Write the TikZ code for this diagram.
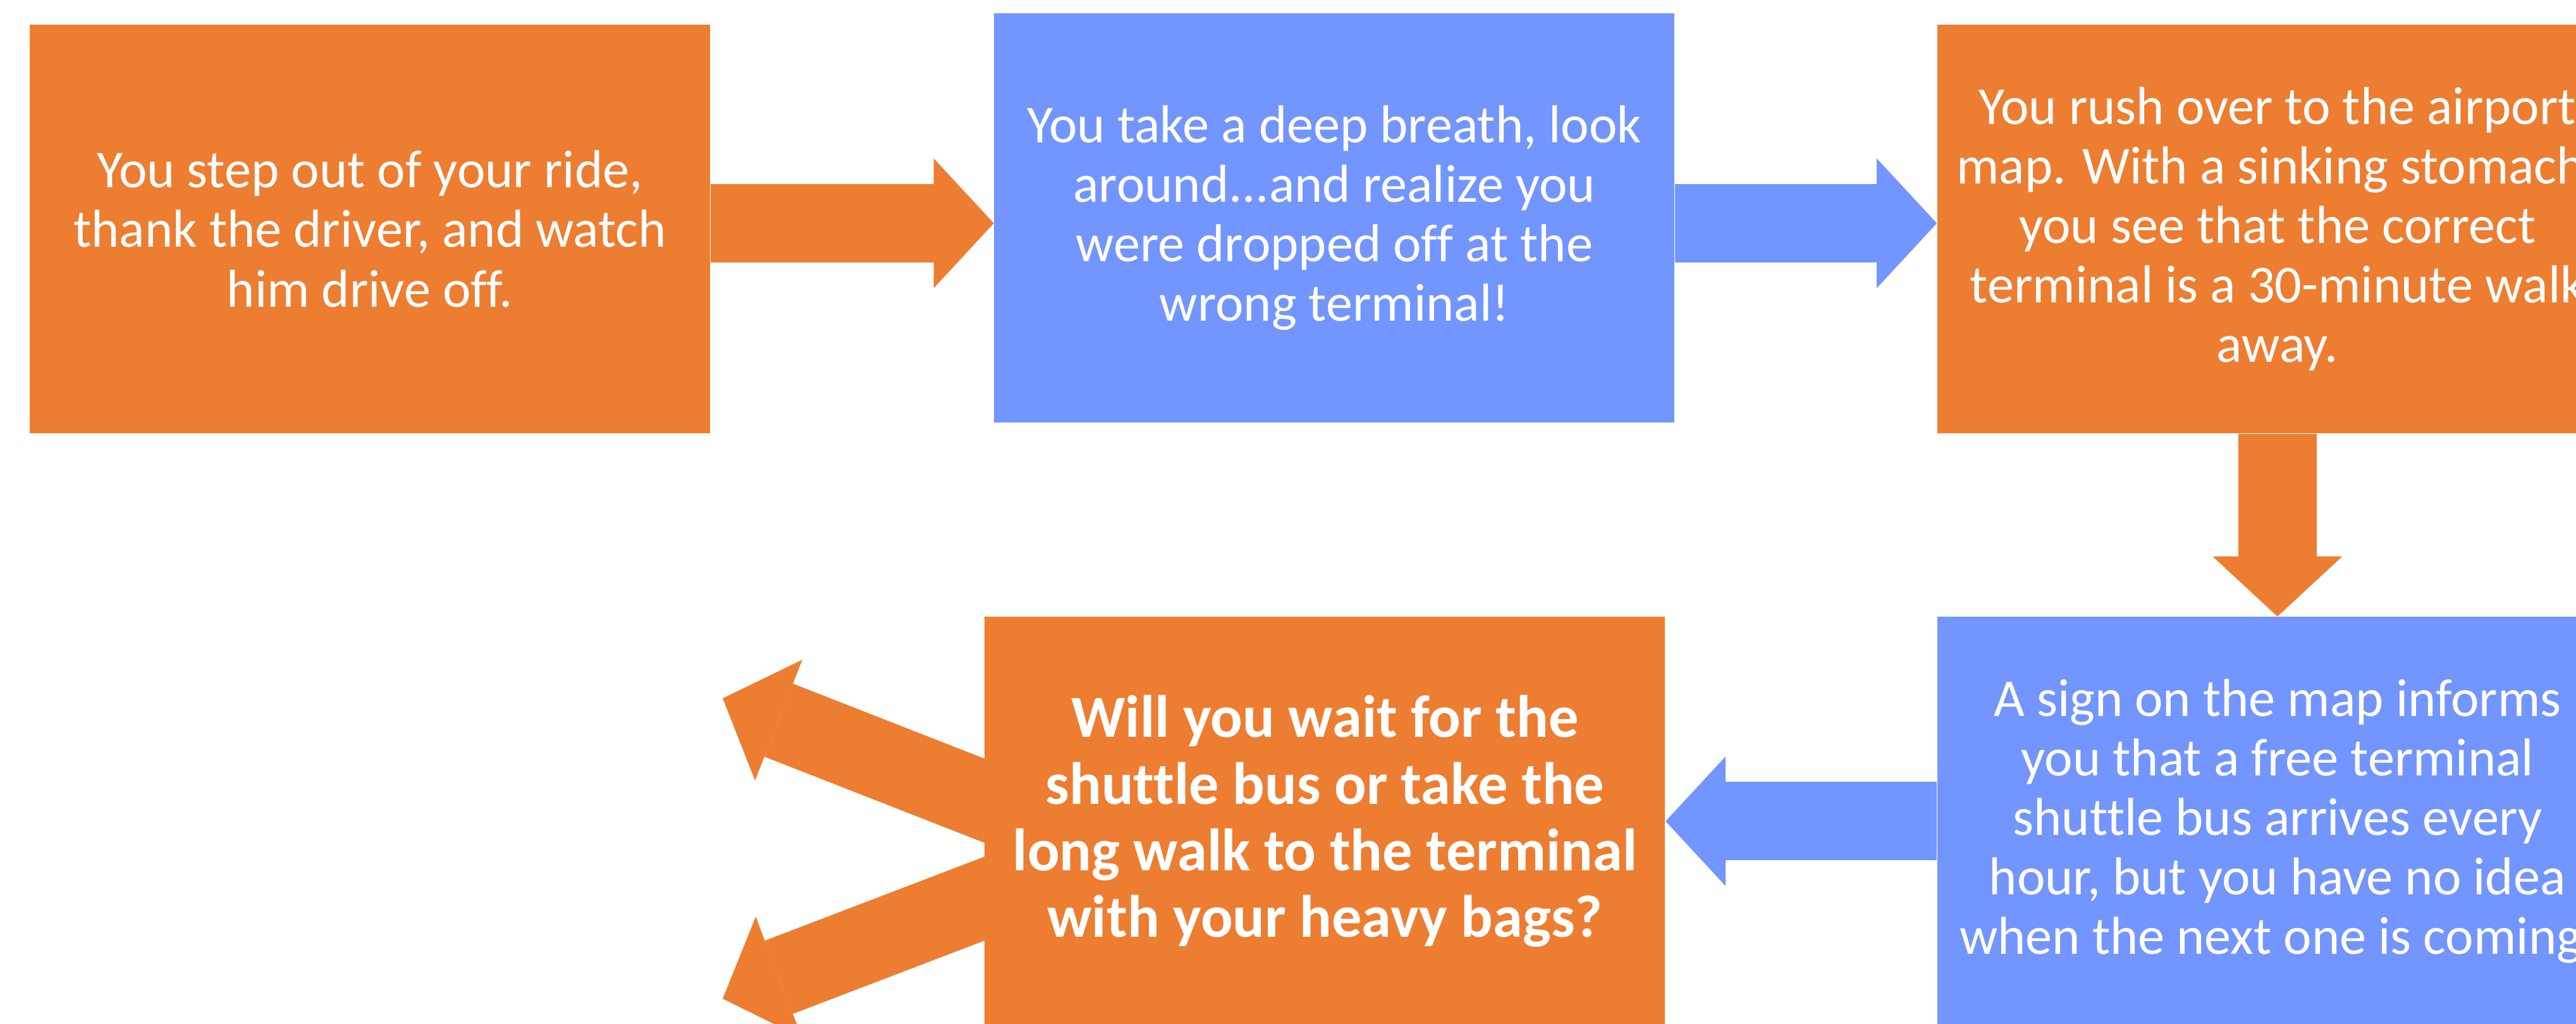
\documentclass[tikz,border=0pt]{standalone}
\usepackage{fontspec}
\setmainfont{Carlito}[Ligatures=CommonOff]
\usepackage{xcolor}
\usetikzlibrary{shapes,arrows.meta,positioning,calc,backgrounds}

\definecolor{storyorange}{HTML}{ED7D31}
\definecolor{storyblue}{HTML}{7295FF}

\begin{document}
\begin{tikzpicture}[
    node distance=4.4cm,
    block/.style={rectangle, minimum width=10.76cm, minimum height=6.46cm, inner sep=0pt, align=center, text=white, font=\fontsize{24}{26.8}\selectfont},
    question/.style={block, font=\fontsize{26.9}{29.9}\selectfont\bfseries},
    arrow/.style={line width=1.24cm, -{Triangle[length=0.95cm, width=2.05cm, line width=0pt]}}
]
    \useasboundingbox (0,0) rectangle (40.74,16.18);

    % Drop-off
    \node[block, fill=storyorange] (ride) at (5.85,12.56) {You step out of your ride,\\thank the driver, and watch\\him drive off.};

    % Wrong terminal
    \node[block, fill=storyblue, right=4.48cm of ride, yshift=0.175cm] (wrong) {You take a deep breath, look\\around...and realize you\\were dropped off at the\\wrong terminal!};

    % Airport map
    \node[block, fill=storyorange, right=4.14cm of wrong, yshift=-0.175cm] (map) {You rush over to the airport\\map. With a sinking stomach,\\you see that the correct\\terminal is a 30-minute walk\\away.};

    % Shuttle sign
    \node[block, fill=storyblue, below=2.89cm of map] (sign) {A sign on the map informs\\you that a free terminal\\shuttle bus arrives every\\hour, but you have no idea\\when the next one is coming.};

    % Choice
    \node[question, fill=storyorange, left=4.29cm of sign] (choice) {Will you wait for the\\shuttle bus or take the\\long walk to the terminal\\with your heavy bags?};

    % Open ends
    \coordinate (upend) at (11.43,5.14);
    \coordinate (downend) at (11.43,0.39);
    \coordinate (upstart) at ([yshift=0.325cm]choice.west);
    \coordinate (downstart) at ([yshift=-1.225cm]choice.west);

    % Arrows
    \begin{scope}[on background layer]
        \draw[arrow, storyorange] ([yshift=0.09cm]ride.east) -- ([yshift=-0.085cm]wrong.west);
        \draw[arrow, storyblue] ([yshift=-0.085cm]wrong.east) -- ([yshift=0.09cm]map.west);
        \draw[arrow, storyorange] (map.south) -- (sign.north);
        \draw[arrow, storyblue] (sign.west) -- (choice.east);
        \draw[arrow, storyorange] ($(upend)!1.2!(upstart)$) -- (upend);
        \draw[arrow, storyorange] ($(downend)!1.2!(downstart)$) -- (downend);
    \end{scope}

\end{tikzpicture}
\end{document}
